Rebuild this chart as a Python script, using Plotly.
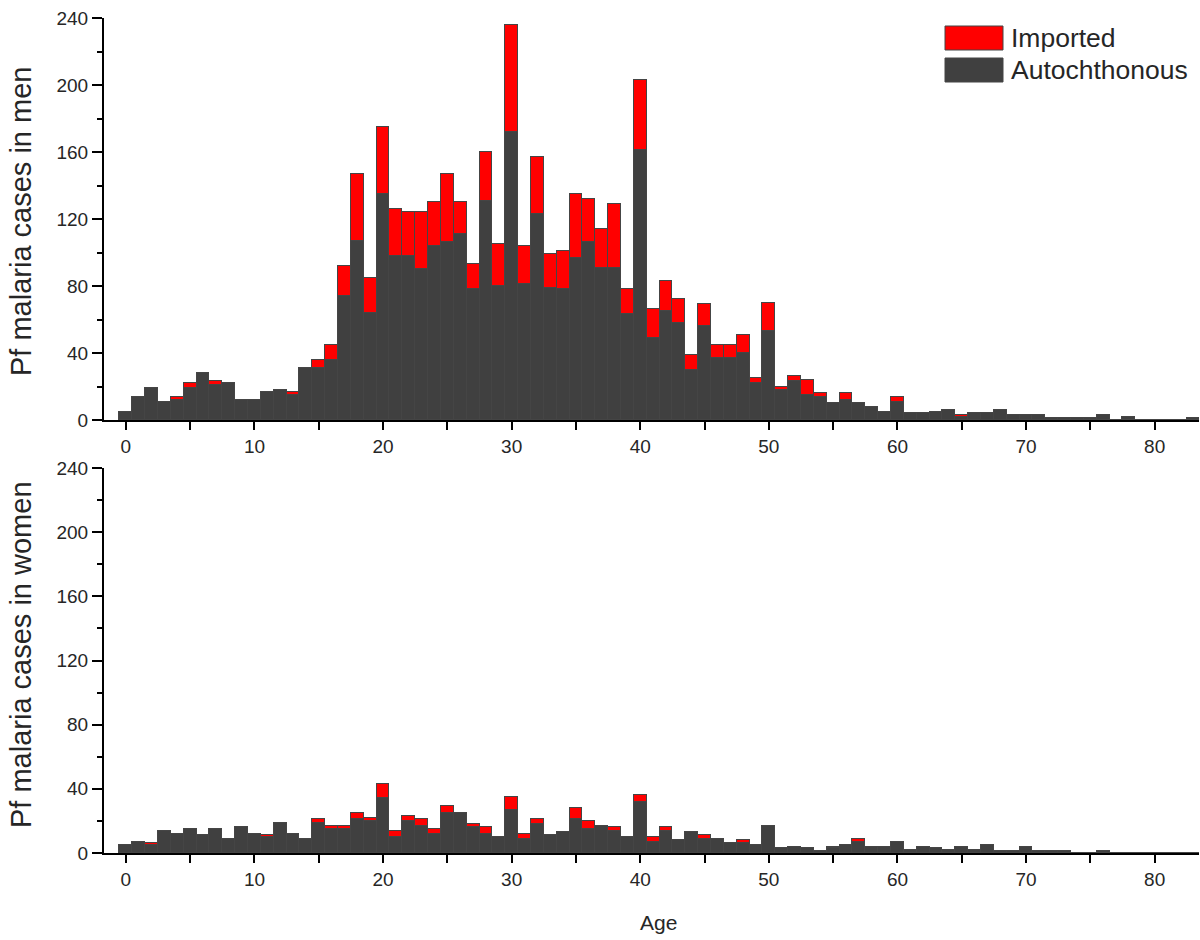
import plotly.graph_objects as go

ages = list(range(0, 84))

men_autochthonous = [5, 14, 19, 11, 12, 19, 28, 21, 22, 12,
                     12, 17, 18, 15, 31, 31, 36, 74, 107, 64,
                     135, 98, 98, 90, 104, 106, 111, 78, 131, 80,
                     172, 81, 123, 79, 78, 97, 106, 91, 91, 63,
                     161, 49, 65, 58, 30, 56, 37, 37, 40, 22,
                     53, 18, 23, 15, 14, 10, 12, 10, 8, 5,
                     11, 4, 4, 5, 6, 2, 4, 4, 6, 3,
                     3, 3, 1, 1, 1, 1, 3, 0, 2, 0,
                     0, 0, 0, 1]
men_imported = [0, 0, 0, 0, 2, 3, 0, 2, 0, 0,
                0, 0, 0, 2, 0, 5, 9, 18, 40, 21,
                40, 28, 26, 34, 26, 41, 19, 15, 29, 25,
                64, 23, 34, 20, 23, 38, 26, 23, 38, 15,
                42, 17, 18, 14, 9, 13, 8, 8, 11, 3,
                17, 2, 3, 9, 2, 0, 4, 0, 0, 0,
                3, 0, 0, 0, 0, 1, 0, 0, 0, 0,
                0, 0, 0, 0, 0, 0, 0, 0, 0, 0,
                0, 0, 0, 0]

women_autochthonous = [5, 7, 5, 14, 12, 15, 11, 15, 9, 16,
                       12, 10, 19, 12, 9, 19, 15, 15, 21, 20,
                       34, 10, 20, 17, 12, 25, 25, 16, 12, 10,
                       27, 9, 18, 11, 13, 21, 15, 17, 14, 10,
                       32, 7, 14, 8, 13, 9, 9, 6, 6, 5,
                       17, 3, 4, 3, 1, 3, 5, 7, 4, 4,
                       7, 2, 4, 3, 2, 4, 2, 5, 1, 1,
                       4, 1, 1, 1, 0, 0, 1, 0, 0, 0,
                       0, 0, 0, 0]
women_imported = [0, 0, 1, 0, 0, 0, 0, 0, 0, 0,
                  0, 1, 0, 0, 0, 2, 2, 2, 4, 2,
                  9, 4, 3, 4, 3, 4, 0, 2, 4, 0,
                  8, 3, 3, 0, 0, 7, 5, 0, 2, 0,
                  4, 3, 2, 0, 0, 2, 0, 0, 2, 0,
                  0, 0, 0, 0, 0, 1, 0, 2, 0, 0,
                  0, 0, 0, 0, 0, 0, 0, 0, 0, 0,
                  0, 0, 0, 0, 0, 0, 0, 0, 0, 0,
                  0, 0, 0, 0]

series_names = ["Imported", "Autochthonous"]
y_titles = ["Pf malaria cases in men", "Pf malaria cases in women"]
x_title = "Age"

DARK = "#404040"
RED = "#FF0000"
EDGE = "#454545"
FONT = "Liberation Sans, Arial, sans-serif"
W, H = 1200, 940


def px(X):
    return X / W


def py(Y):
    return 1 - Y / H


fig = go.Figure()
for auto, imp, xa, ya in [(men_autochthonous, men_imported, "x", "y"),
                          (women_autochthonous, women_imported, "x2", "y2")]:
    fig.add_trace(go.Bar(x=ages, y=auto, name=series_names[1], marker_color=DARK,
                         marker_line=dict(color=EDGE, width=1), width=1,
                         xaxis=xa, yaxis=ya, showlegend=False))
    fig.add_trace(go.Bar(x=ages, y=imp, name=series_names[0], marker_color=RED,
                         marker_line=dict(color=EDGE, width=1), width=1,
                         xaxis=xa, yaxis=ya, showlegend=False))

xdom = [px(104), px(1199)]
top_dom = [py(420), py(18)]
bot_dom = [py(853), py(468)]

tickfont = dict(family=FONT, size=19, color="#262626")


def xaxis_cfg(anchor):
    return dict(domain=xdom, anchor=anchor, range=[-1.7, 83.45], automargin=False,
                ticklabeloverflow="allow",
                tickmode="linear", tick0=0, dtick=10,
                ticks="outside", ticklen=8, tickwidth=2, tickcolor="black",
                minor=dict(tickmode="linear", tick0=0, dtick=5, ticks="outside",
                           ticklen=8, tickwidth=2, tickcolor="black", showgrid=False),
                showline=True, linewidth=2, linecolor="black",
                showgrid=False, zeroline=False, tickfont=tickfont)


def yaxis_cfg(dom, anchor):
    return dict(domain=dom, anchor=anchor, range=[0, 240], automargin=False,
                ticklabeloverflow="allow",
                tickmode="linear", tick0=0, dtick=40,
                ticks="outside", ticklen=10, tickwidth=2, tickcolor="black",
                minor=dict(tickmode="linear", tick0=0, dtick=20, ticks="outside",
                           ticklen=5, tickwidth=2, tickcolor="black", showgrid=False),
                showline=True, linewidth=2, linecolor="black",
                showgrid=False, zeroline=False, tickfont=tickfont)


fig.update_layout(
    width=W, height=H,
    margin=dict(l=0, r=0, t=0, b=0, pad=0),
    paper_bgcolor="white", plot_bgcolor="white",
    barmode="stack", bargap=0,
    showlegend=False,
    xaxis=xaxis_cfg("y"),
    yaxis=yaxis_cfg(top_dom, "x"),
    xaxis2=xaxis_cfg("y2"),
    yaxis2=yaxis_cfg(bot_dom, "x2"),
    font=dict(family=FONT),
)

# axis titles
fig.add_annotation(text=y_titles[0], x=px(21), y=py(222), xref="paper", yref="paper",
                   textangle=-90, showarrow=False, xanchor="center", yanchor="middle",
                   font=dict(family=FONT, size=29, color="#262626"))
fig.add_annotation(text=y_titles[1], x=px(21), y=py(655), xref="paper", yref="paper",
                   textangle=-90, showarrow=False, xanchor="center", yanchor="middle",
                   font=dict(family=FONT, size=29, color="#262626"))
fig.add_annotation(text=x_title, x=px(658), y=py(922), xref="paper", yref="paper",
                   showarrow=False, xanchor="center", yanchor="middle",
                   font=dict(family=FONT, size=21, color="#262626"))

# legend drawn manually
legend_items = [(series_names[0], RED, 26, 50), (series_names[1], DARK, 58, 82)]
for name, col, y0, y1 in legend_items:
    fig.add_shape(type="rect", xref="paper", yref="paper",
                  x0=px(945), x1=px(1003), y0=py(y1), y1=py(y0),
                  fillcolor=col, line=dict(color=EDGE, width=1))
    fig.add_annotation(text=name, x=px(1009), y=py((y0 + y1) / 2),
                       xref="paper", yref="paper", showarrow=False,
                       xanchor="left", yanchor="middle",
                       font=dict(family=FONT, size=26.5, color="#262626"))

fig.write_html("out.html", config={"displayModeBar": False},
               post_script="document.body.style.margin='0px';document.body.style.padding='0px';")
